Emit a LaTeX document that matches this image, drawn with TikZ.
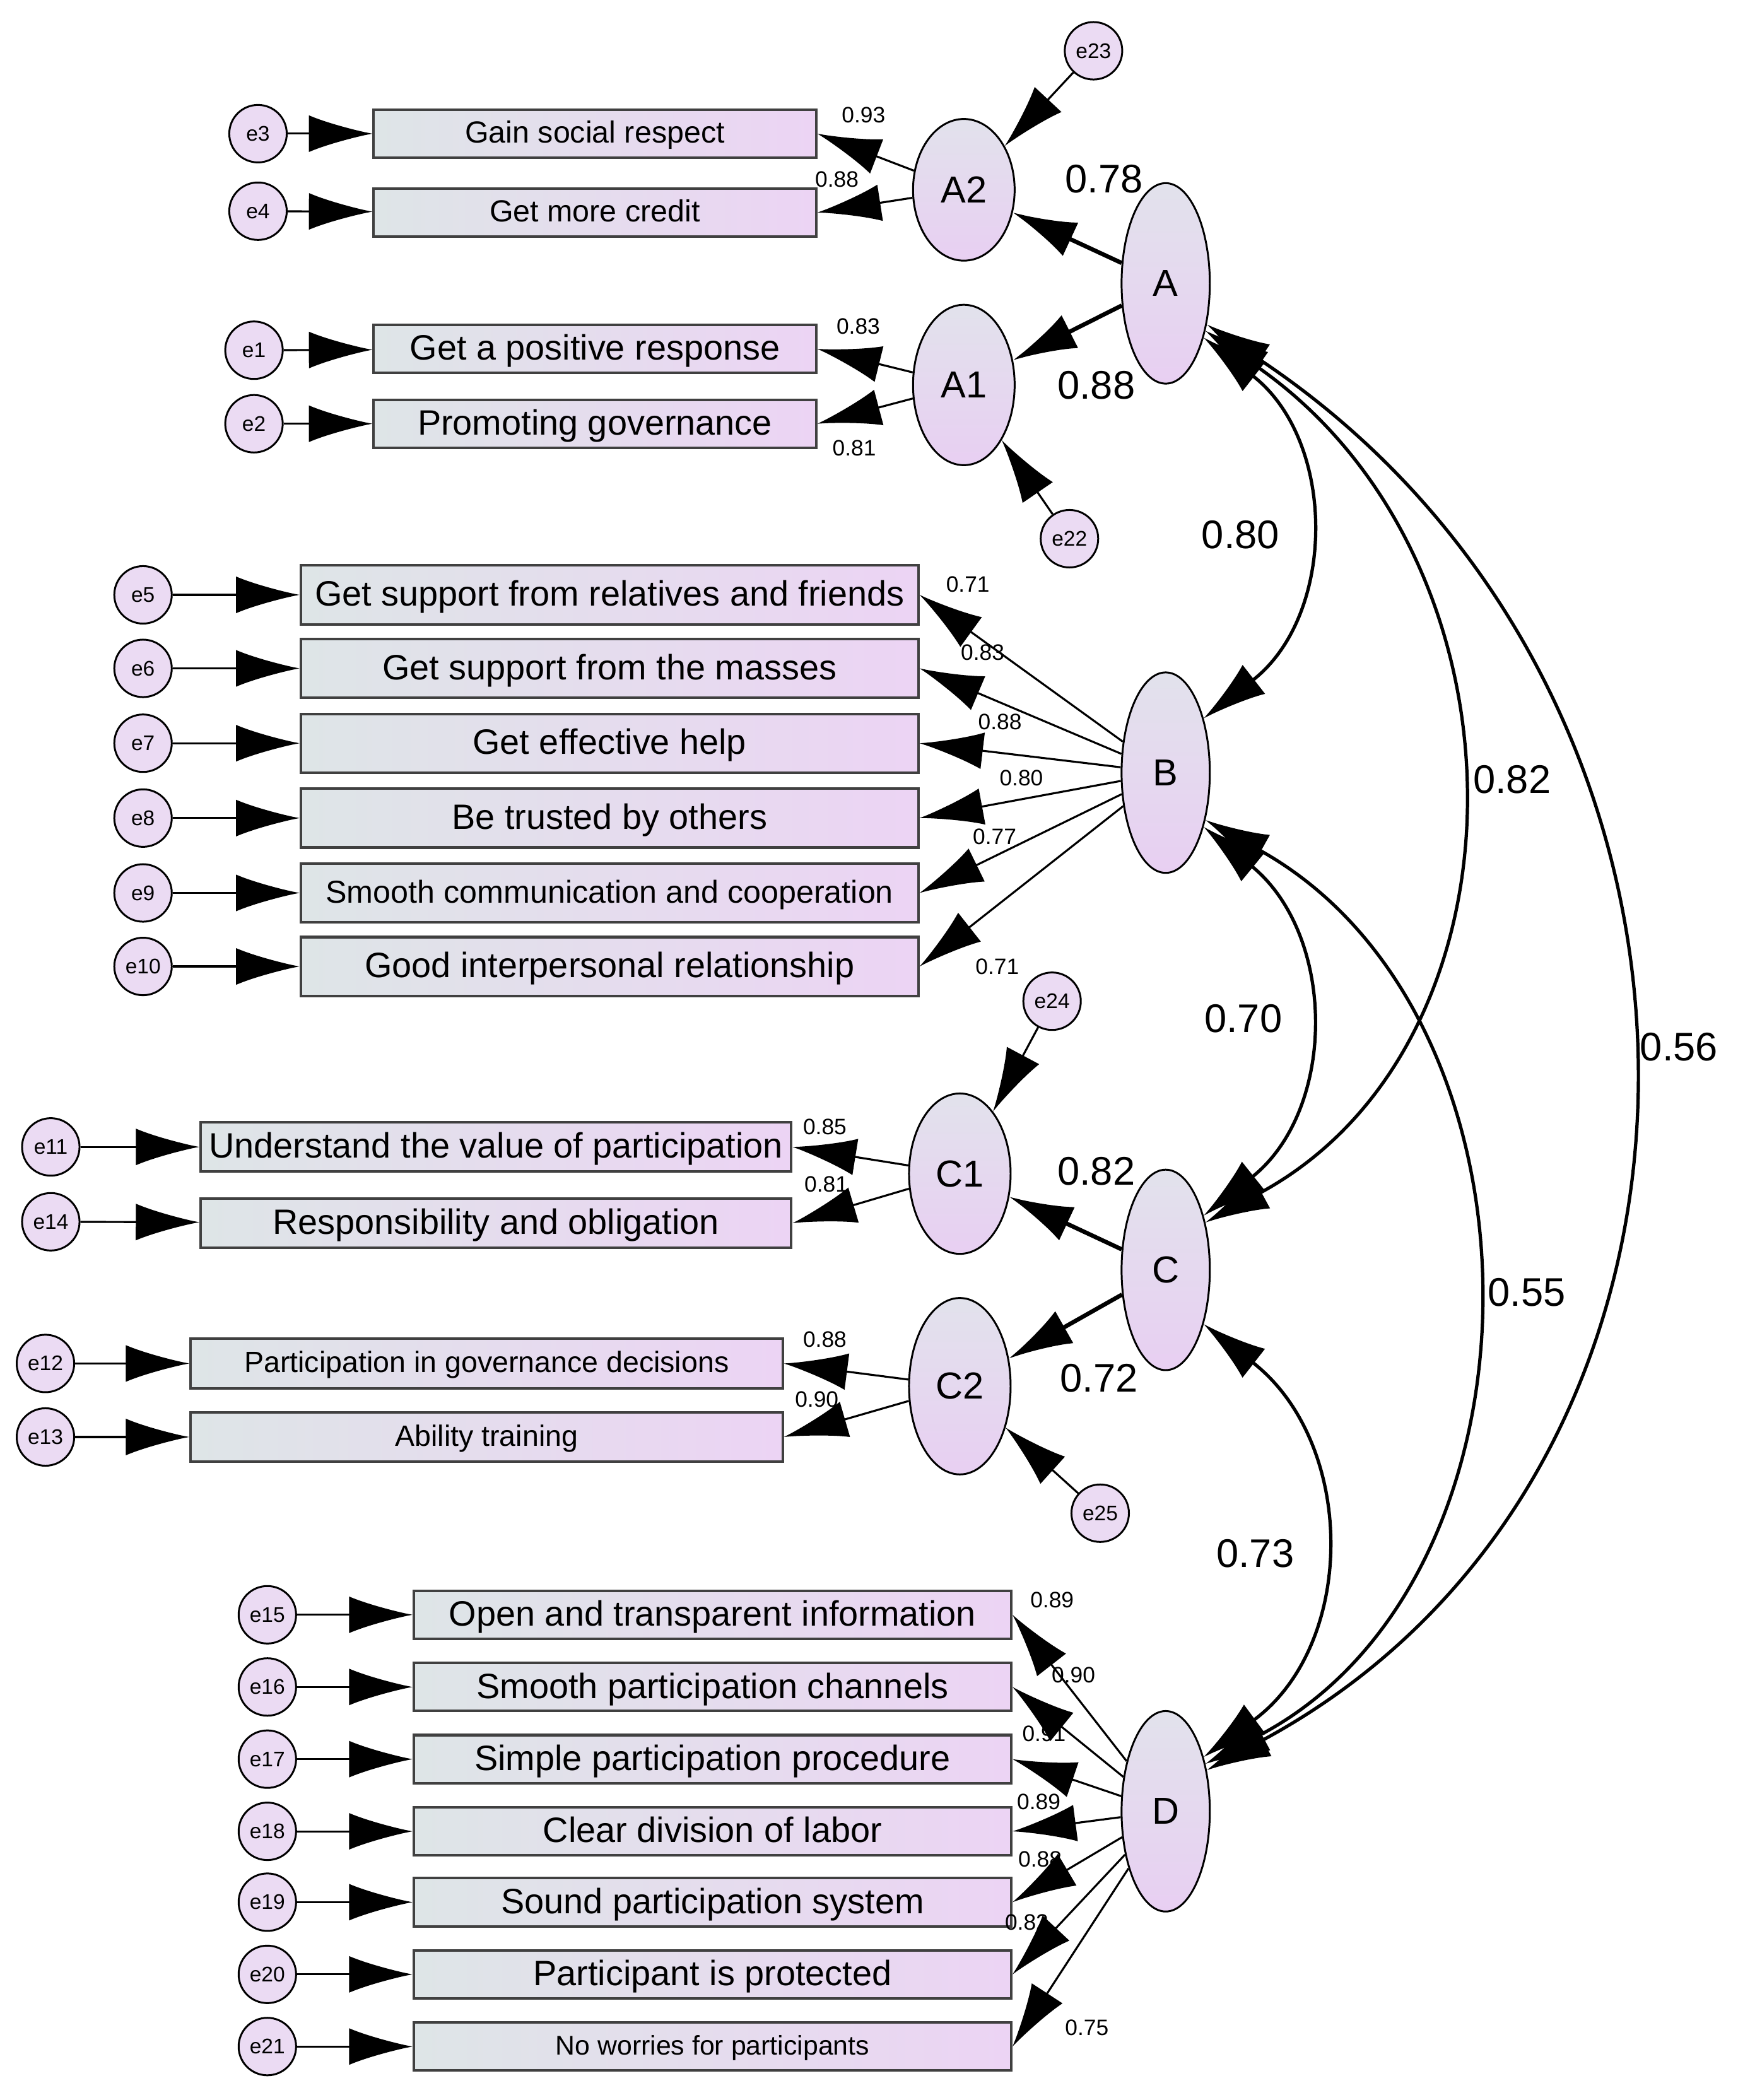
\documentclass[tikz,border=0pt]{standalone}
\usepackage{fontspec}
\setmainfont{Liberation Sans}
\usetikzlibrary{shapes.geometric,arrows.meta}
\definecolor{boxleft}{HTML}{DEE5E7}
\definecolor{boxright}{HTML}{ECD4F4}
\definecolor{lattop}{HTML}{E2E2EC}
\definecolor{latbot}{HTML}{E8CFF2}
\definecolor{errfill}{HTML}{EBDBF3}
\tikzset{
  tip/.style={-{Latex[length=0.95cm,width=0.55cm]}},
  dtip/.style={{Latex[length=0.95cm,width=0.55cm]}-{Latex[length=0.95cm,width=0.55cm]}},
  err/.style={circle,draw,line width=0.8pt,fill=errfill,minimum size=0.86cm,inner sep=0pt,font=\fontsize{9}{10}\selectfont},
  obs/.style={rectangle,draw=black!75,line width=1.1pt,left color=boxleft,right color=boxright,inner sep=0pt,text depth=0.25ex,font=\fontsize{15}{17}\selectfont},
  lat/.style={ellipse,draw,line width=0.8pt,top color=lattop,bottom color=latbot,inner sep=0pt,font=\fontsize{16}{18}\selectfont},
  ld/.style={font=\fontsize{9.5}{11}\selectfont},
  big/.style={font=\fontsize{17}{19}\selectfont},
}
\begin{document}
\begin{tikzpicture}[x=0.02cm,y=-0.02cm,line width=0.85pt]
  \useasboundingbox (0,0) rectangle (1300,1571);

  % latent variables
  \node[lat,minimum width=1.52cm,minimum height=2.12cm] (A2) at (721,142) {A2};
  \node[lat,minimum width=1.52cm,minimum height=2.4cm]  (A1) at (721,288) {A1};
  \node[lat,minimum width=1.32cm,minimum height=3cm]    (A)  at (872,212) {A};
  \node[lat,minimum width=1.32cm,minimum height=3cm]    (B)  at (872,578) {B};
  \node[lat,minimum width=1.52cm,minimum height=2.4cm]  (C1) at (718,878) {C1};
  \node[lat,minimum width=1.52cm,minimum height=2.64cm] (C2) at (718,1037) {C2};
  \node[lat,minimum width=1.32cm,minimum height=3cm]    (C)  at (872,950) {C};
  \node[lat,minimum width=1.32cm,minimum height=3cm]    (D)  at (872,1355) {D};

  % A
  \node[obs,minimum width=6.62cm,minimum height=0.72cm,font=\fontsize{13}{15}\selectfont] (a3) at (445,100) {Gain social respect};
  \node[obs,minimum width=6.62cm,minimum height=0.72cm,font=\fontsize{13}{15}\selectfont] (a4) at (445,159) {Get more credit};
  \node[obs,minimum width=6.62cm,minimum height=0.72cm] (a1) at (445,261) {Get a positive response};
  \node[obs,minimum width=6.62cm,minimum height=0.72cm] (a2) at (445,317) {Promoting governance};
  \node[err] (e3) at (193,100) {e3};
  \node[err] (e4) at (193,158) {e4};
  \node[err] (e1) at (190,262) {e1};
  \node[err] (e2) at (190,317) {e2};
  \node[err] (e23) at (818,38) {e23};
  \node[err] (e22) at (800,403) {e22};

  % B
  \node[obs,minimum width=9.24cm,minimum height=0.88cm] (b5) at (456,445) {Get support from relatives and friends};
  \node[obs,minimum width=9.24cm,minimum height=0.88cm] (b6) at (456,500) {Get support from the masses};
  \node[obs,minimum width=9.24cm,minimum height=0.88cm] (b7) at (456,556) {Get effective help};
  \node[obs,minimum width=9.24cm,minimum height=0.88cm] (b8) at (456,612) {Be trusted by others};
  \node[obs,minimum width=9.24cm,minimum height=0.88cm,font=\fontsize{13.5}{15}\selectfont] (b9) at (456,668) {Smooth communication and cooperation};
  \node[obs,minimum width=9.24cm,minimum height=0.88cm] (b10) at (456,723) {Good interpersonal relationship};
  \foreach \i/\y in {5/445,6/500,7/556,8/612,9/668,10/723}
    \node[err] (e\i) at (107,\y) {e\i};

  % C
  \node[obs,minimum width=8.84cm,minimum height=0.74cm] (c11) at (371,858) {Understand the value of participation};
  \node[obs,minimum width=8.84cm,minimum height=0.74cm] (c14) at (371,915) {Responsibility and obligation};
  \node[obs,minimum width=8.86cm,minimum height=0.74cm,font=\fontsize{12.5}{14}\selectfont] (c12) at (364,1020) {Participation in governance decisions};
  \node[obs,minimum width=8.86cm,minimum height=0.74cm,font=\fontsize{12.5}{14}\selectfont] (c13) at (364,1075) {Ability training};
  \node[err] (e11) at (38,858) {e11};
  \node[err] (e14) at (38,914) {e14};
  \node[err] (e12) at (34,1020) {e12};
  \node[err] (e13) at (34,1075) {e13};
  \node[err] (e24) at (787,749) {e24};
  \node[err] (e25) at (823,1132) {e25};

  % D
  \node[obs,minimum width=8.94cm,minimum height=0.72cm] (d15) at (533,1208) {Open and transparent information};
  \node[obs,minimum width=8.94cm,minimum height=0.72cm] (d16) at (533,1262) {Smooth participation channels};
  \node[obs,minimum width=8.94cm,minimum height=0.72cm] (d17) at (533,1316) {Simple participation procedure};
  \node[obs,minimum width=8.94cm,minimum height=0.72cm] (d18) at (533,1370) {Clear division of labor};
  \node[obs,minimum width=8.94cm,minimum height=0.72cm] (d19) at (533,1423) {Sound participation system};
  \node[obs,minimum width=8.94cm,minimum height=0.72cm] (d20) at (533,1477) {Participant is protected};
  \node[obs,minimum width=8.94cm,minimum height=0.72cm,font=\fontsize{11.5}{13}\selectfont] (d21) at (533,1531) {No worries for participants};
  \foreach \i/\y in {15/1208,16/1262,17/1316,18/1370,19/1423,20/1477,21/1531}
    \node[err] (e\i) at (200,\y) {e\i};

  % error terms
  \foreach \e/\t in {e3/a3,e4/a4,e1/a1,e2/a2,e5/b5,e6/b6,e7/b7,e8/b8,e9/b9,e10/b10,
                     e11/c11,e14/c14,e12/c12,e13/c13,e15/d15,e16/d16,e17/d17,e18/d18,e19/d19,e20/d20,e21/d21}
    \draw[tip] (\e) -- (\t);
  \draw[tip] (e23) -- (A2);
  \draw[tip] (e22) -- (A1);
  \draw[tip] (e24) -- (C1);
  \draw[tip] (e25) -- (C2);

  % loadings
  \foreach \l/\t in {A2/a3,A2/a4,A1/a1,A1/a2,B/b5,B/b6,B/b7,B/b8,B/b9,B/b10,
                     C1/c11,C1/c14,C2/c12,C2/c13,D/d15,D/d16,D/d17,D/d18,D/d19,D/d20,D/d21}
    \draw[tip] (\l) -- (\t.east);
  \draw[tip,line width=1.8pt] (A) -- (A2);
  \draw[tip,line width=1.8pt] (A) -- (A1);
  \draw[tip,line width=1.8pt] (C) -- (C1);
  \draw[tip,line width=1.8pt] (C) -- (C2);

  % correlations
  \draw[dtip,line width=1.4pt] (A.-55) .. controls (1000,330) and (1000,460) .. (B.55);
  \draw[dtip,line width=1.4pt] (A.-50) .. controls (1150,420) and (1150,780) .. (C.50);
  \draw[dtip,line width=1.4pt] (A.-45) .. controls (1320,520) and (1320,1100) .. (D.45);
  \draw[dtip,line width=1.4pt] (B.-55) .. controls (1000,700) and (1000,830) .. (C.55);
  \draw[dtip,line width=1.4pt] (B.-50) .. controls (1165,760) and (1165,1180) .. (D.50);
  \draw[dtip,line width=1.4pt] (C.-55) .. controls (1015,1080) and (1015,1230) .. (D.55);

  % estimates
  \node[big] (rAB) at (928,400) {0.80};
  \node[big] (rAC) at (1131,583) {0.82};
  \node[big] (rAD) at (1256,783) {0.56};
  \node[big] (rBC) at (930,762) {0.70};
  \node[big] (rBD) at (1142,967) {0.55};
  \node[big] (rCD) at (939,1162) {0.73};
  \node[big] (wA2) at (826,134) {0.78};
  \node[big] (wA1) at (820,288) {0.88};
  \node[big] (wC1) at (820,876) {0.82};
  \node[big] (wC2) at (822,1031) {0.72};
  \foreach \n/\x/\y/\v in {l3/646/86/0.93,l4/626/134/0.88,l1/642/244/0.83,l2/639/335/0.81,
      l5/724/437/0.71,l6/735/488/0.83,l7/748/540/0.88,l8/764/582/0.80,l9/744/626/0.77,l10/746/723/0.71,
      l11/617/843/0.85,l14/618/886/0.81,l12/617/1002/0.88,l13/611/1047/0.90,
      l15/787/1197/0.89,l16/803/1253/0.90,l17/781/1297/0.91,l18/777/1348/0.89,l19/778/1391/0.88,l20/768/1438/0.82,l21/813/1517/0.75}
    \node[ld] (\n) at (\x,\y) {\v};
\end{tikzpicture}
\end{document}
